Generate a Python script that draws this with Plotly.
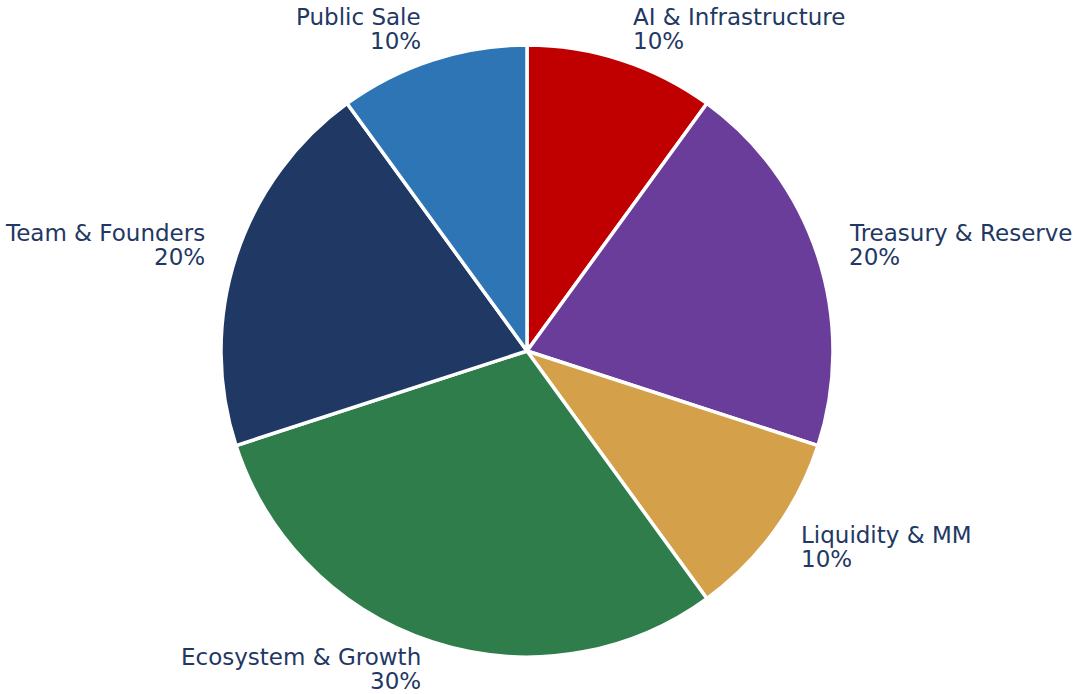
import math
import plotly.graph_objects as go

labels = ["AI & Infrastructure", "Treasury & Reserve", "Liquidity & MM",
          "Ecosystem & Growth", "Team & Founders", "Public Sale"]
values = [10, 20, 10, 30, 20, 10]
colors = ["#C00000", "#6A3D9A", "#D4A04A", "#2E7D4A", "#1F3864", "#2E75B6"]

W, H = 1073, 694
cx, cy, R = 527, 351, 306  # pixel center (from top) and radius
LINE = 24  # pixel spacing between label lines
SHIFT = -2  # small vertical nudge of label blocks

dx0, dx1 = (cx - R) / W, (cx + R) / W
dy0, dy1 = (H - cy - R) / H, (H - cy + R) / H

fig = go.Figure(go.Pie(
    labels=labels, values=values, sort=False, direction="clockwise",
    rotation=0, marker=dict(colors=colors, line=dict(color="white", width=3.5)),
    textinfo="none", hoverinfo="label+percent", showlegend=False,
    domain=dict(x=[dx0, dx1], y=[dy0, dy1]),
))

total = sum(values)
ann = []
start = 90.0
font = dict(family="DejaVu Sans", size=23, color="#1F3864")
for lab, v in zip(labels, values):
    span = 360.0 * v / total
    mid = math.radians(start - span / 2)
    start -= span
    px = cx + 1.1 * R * math.cos(mid)
    py = cy - 1.1 * R * math.sin(mid) + SHIFT
    right = math.cos(mid) >= 0
    pct = f"{100 * v / total:.0f}%"
    for txt, off in ((lab, -LINE / 2), (pct, LINE / 2)):
        ann.append(dict(
            x=px / W, y=1 - (py + off) / H, xref="paper", yref="paper",
            text=txt, showarrow=False,
            xanchor="left" if right else "right", yanchor="middle",
            align="left" if right else "right", font=font,
        ))

fig.update_layout(
    width=W, height=H, margin=dict(l=0, r=0, t=0, b=0),
    paper_bgcolor="white", plot_bgcolor="white", annotations=ann,
)
fig.write_html("out.html")
